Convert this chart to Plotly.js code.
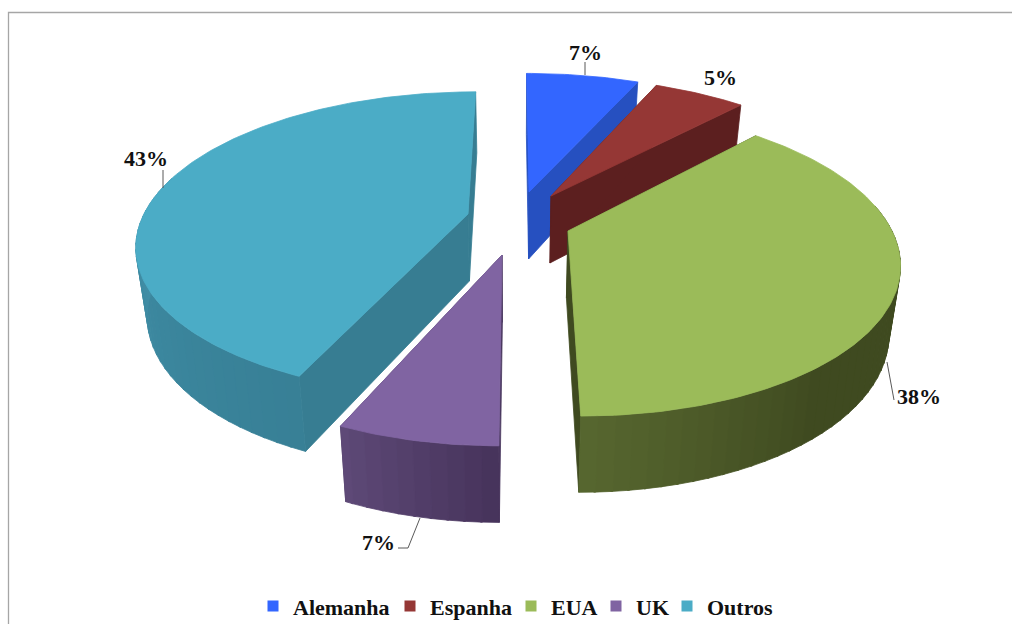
<!DOCTYPE html>
<html><head><meta charset="utf-8">
<script src="https://cdn.plot.ly/plotly-3.0.1.min.js"></script>
<style>html,body{margin:0;padding:0;background:#fff}</style></head>
<body><div id="chart" style="width:1012px;height:624px"></div>
<script>
// Data (estimated shares; labels show them rounded)
const categories = ['Alemanha','Espanha','EUA','UK','Outros'];
const shares = [6.6,5.4,38,6.6,43.4];
// Styles and exploded-pie projection settings (separate from the data)
const topColors = ['#3366ff','#953735','#9bbb59','#8064a2','#4bacc6'];
const faceColors = ['#2650c0','#5c1f1f','#3f4a20','#4a3860','#377d92'];
const wallStops = [
  [[0,'#2650c0'],[1,'#2650c0']],
  [[0,'#5c1f1f'],[1,'#5c1f1f']],
  [[0,'#3f4a20'],[0.6,'#3f4a20'],[1,'#586830']],
  [[0,'#47345c'],[1,'#5f4a78']],
  [[0,'#388096'],[0.5,'#3c889f'],[1,'#4795ad']]
];
const apexX = [529,551,568,502,468];
const apexY = [192,196,231,255,214];
const labelX = [585,720,919,378,146];
const labelY = [52,77,396,542,158];
const leaderX = [[585,585],[],[887,894],[420,408,398],[163,163]];
const leaderY = [[62,75],[],[362,400],[518,548,548],[170,188]];
const legendLeft = [253,390,511,596,667];
const drawOrder = [0,1,4,3,2];
const cx=515, cy=225, radX=324, radY=148, persp=0.194, depth=67, depthSX=0.97, depthSY=1.05;

const total = shares.reduce((a,b)=>a+b,0);
const starts=[]; let acc=0;
shares.forEach(v=>{starts.push(acc/total*360); acc+=v;});

function hex(c){return [1,3,5].map(i=>parseInt(c.substr(i,2),16));}
function ramp(stops,t){
  for(let i=1;i<stops.length;i++){
    if(t<=stops[i][0]){
      const f=(t-stops[i-1][0])/((stops[i][0]-stops[i-1][0])||1);
      const p=hex(stops[i-1][1]),q=hex(stops[i][1]);
      return 'rgb('+p.map((v,j)=>Math.round(v+(q[j]-v)*f)).join(',')+')';
    }
  }
  return stops[stops.length-1][1];
}
function topPt(i,deg){
  const r=deg*Math.PI/180,X=Math.sin(r),Y=Math.cos(r),d=1+persp*Y;
  return [cx+(apexX[i]-cx+radX*X)/d, cy+(apexY[i]-cy-radY*Y)/d];
}
function lowPt(p,i){
  return [cx+(p[0]-cx)*depthSX, apexY[i]+depth+(p[1]-apexY[i])*depthSY];
}
function poly(pts,color){
  return {type:'scatter',mode:'lines',x:pts.map(p=>p[0]),y:pts.map(p=>p[1]),
    fill:'toself',fillcolor:color,line:{color:color,width:0.8},hoverinfo:'skip',showlegend:false};
}
const traces=[];
drawOrder.forEach(i=>{
  const a0=starts[i], a1=a0+shares[i]/total*360, ap=[apexX[i],apexY[i]], apL=lowPt(ap,i);
  // radial side faces
  [a1,a0].forEach(a=>{
    const p=topPt(i,a);
    traces.push(poly([ap,p,lowPt(p,i),apL,ap],faceColors[i]));
  });
  // outer wall strips, only where the rim faces the viewer
  const stepDeg=2.5, wStart=Math.max(a0,80), wEnd=Math.min(a1,285);
  if(wEnd>wStart){
    for(let a=wStart;a<wEnd;a+=stepDeg){
      const b=Math.min(a+stepDeg+0.3,wEnd);
      const t=(a-wStart)/(wEnd-wStart);
      const p=topPt(i,a),q=topPt(i,b);
      traces.push(poly([p,q,lowPt(q,i),lowPt(p,i),p],ramp(wallStops[i],t)));
    }
  }
  // top face
  const rim=[ap];
  for(let a=a0;a<a1;a+=1) rim.push(topPt(i,a));
  rim.push(topPt(i,a1),ap);
  traces.push(poly(rim,topColors[i]));
});
// leader lines
leaderX.forEach((lx,i)=>{
  if(lx.length) traces.push({type:'scatter',mode:'lines',x:lx,y:leaderY[i],
    line:{color:'#595959',width:1},hoverinfo:'skip',showlegend:false});
});
// legend entries, one small legend per category
const legendFont={family:'"Liberation Serif",serif',size:22,color:'#111',weight:700};
const layout={
  width:1012,height:624,
  margin:{l:0,r:0,t:0,b:0,autoexpand:false},
  paper_bgcolor:'#fff',plot_bgcolor:'#fff',
  xaxis:{range:[0,1012],visible:false,fixedrange:true},
  yaxis:{range:[624,0],visible:false,fixedrange:true},
  shapes:[{type:'path',xref:'x',yref:'y',path:'M8.5 624 L8.5 12.5 L1012 12.5',line:{color:'#a6a6a6',width:1.3}}],
  annotations:shares.map((v,i)=>({x:labelX[i],y:labelY[i],xref:'x',yref:'y',text:Math.round(v)+'%',showarrow:false,
    font:{family:'"Liberation Serif",serif',size:22,color:'#111',weight:700},xanchor:'center',yanchor:'middle'})),
  showlegend:true
};
categories.forEach((c,i)=>{
  const id = i===0 ? 'legend' : 'legend'+(i+1);
  traces.push({type:'scatter',mode:'markers',name:c,x:[null],y:[null],legend:id,
    marker:{symbol:'square',size:11,color:topColors[i]},hoverinfo:'skip'});
  layout[id]={orientation:'h',x:legendLeft[i]/1012,y:0.062,xanchor:'left',yanchor:'top',
    bgcolor:'rgba(0,0,0,0)',font:legendFont,itemwidth:30};
});
Plotly.newPlot('chart',traces,layout,{displayModeBar:false,staticPlot:true});
</script></body></html>
